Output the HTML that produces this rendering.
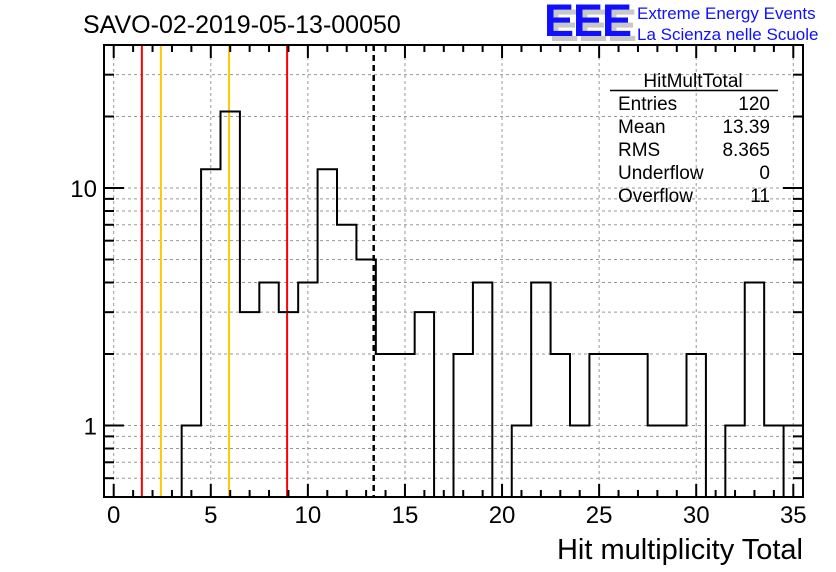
<!DOCTYPE html>
<html><head><meta charset="utf-8"><style>
html,body{margin:0;padding:0;background:#fff;}
svg{display:block;font-family:"Liberation Sans",Arial,sans-serif;}
</style></head><body>
<svg id="c" width="836" height="572" viewBox="0 0 836 572">
<rect width="836" height="572" fill="#fff"/>
<g id="grid"></g>
<g id="vlines"></g>
<path id="hist" fill="none" stroke="#000" stroke-width="2"/>
<g id="axes"></g>
<text x="83" y="33" font-size="25">SAVO-02-2019-05-13-00050</text>
<g>
<text x="549" y="41" font-size="45" font-weight="bold" fill="#c8c8c8" letter-spacing="-1">EEE</text>
<text x="544" y="36" font-size="45" font-weight="bold" fill="#1010ff" letter-spacing="-1">EEE</text>
<text x="637" y="19" font-size="17" fill="#1010ff">Extreme Energy Events</text>
<text x="637" y="40" font-size="17" fill="#1010ff">La Scienza nelle Scuole</text>
</g>
<g font-size="19">
<text x="693" y="87" text-anchor="middle">HitMultTotal</text>
<line x1="610" y1="90.5" x2="778" y2="90.5" stroke="#000" stroke-width="1.5"/>
<text x="618" y="110">Entries</text><text x="770" y="110" text-anchor="end">120</text>
<text x="618" y="133">Mean</text><text x="770" y="133" text-anchor="end">13.39</text>
<text x="618" y="156">RMS</text><text x="770" y="156" text-anchor="end">8.365</text>
<text x="618" y="179">Underflow</text><text x="770" y="179" text-anchor="end">0</text>
<text x="618" y="202">Overflow</text><text x="770" y="202" text-anchor="end">11</text>
</g>
<text x="803" y="559" font-size="29" text-anchor="end">Hit multiplicity Total</text>
</svg>
<script>
const binCenters=[0,1,2,3,4,5,6,7,8,9,10,11,12,13,14,15,16,17,18,19,20,21,22,23,24,25,26,27,28,29,30,31,32,33,34,35];
const counts=[0,0,0,0,1,12,21,3,4,3,4,12,7,5,2,2,3,0,2,4,0,1,4,2,1,2,2,2,1,1,2,0,1,4,1,1];
const xTicks=[0,5,10,15,20,25,30,35];
const yMajor=[1,10];
const yMinor=[0.5,0.6,0.7,0.8,0.9,2,3,4,5,6,7,8,9,20,30,40];
const cutLines=[1.45,2.43,5.94,8.93];
const cutColors=["#ff0000","#ffc800","#ffc800","#ff0000"];
const meanVal=13.39;

const L=104,R=803,T=45,B=497;
const xmin=-0.5,xmax=35.5,ymin=0.5,ymax=40;
function X(v){return L+(v-xmin)/(xmax-xmin)*(R-L);}
function Y(v){const lv=Math.log10(Math.max(v,ymin));return B-(lv-Math.log10(ymin))/(Math.log10(ymax)-Math.log10(ymin))*(B-T);}
const NS="http://www.w3.org/2000/svg";
function mk(tag,attrs,parent){const e=document.createElementNS(NS,tag);for(const k in attrs)e.setAttribute(k,attrs[k]);parent.appendChild(e);return e;}
const grid=document.getElementById('grid'),axes=document.getElementById('axes'),vl=document.getElementById('vlines');
xTicks.forEach(t=>{const l=mk('line',{x1:X(t),x2:X(t),y1:T,y2:B,stroke:'#999','stroke-dasharray':'3,3','stroke-width':1},grid);

});
yMajor.concat(yMinor).forEach(t=>{const l=mk('line',{x1:L,x2:R,y1:Y(t),y2:Y(t),stroke:'#999','stroke-dasharray':'3,3','stroke-width':1},grid);

});
cutLines.forEach((c,i)=>{const l=mk('line',{x1:X(c),x2:X(c),y1:T,y2:B,stroke:cutColors[i],'stroke-width':2},vl);

});
const ml=mk('line',{x1:X(meanVal),x2:X(meanVal),y1:T,y2:B,stroke:'#000','stroke-width':2.5,'stroke-dasharray':'6,4'},vl);


let d='',prev=null;
binCenters.forEach((c,i)=>{const x0=X(c-0.5),x1=X(c+0.5),y=counts[i]>0?Y(counts[i]):B;
if(prev===null)d+='M'+x0+','+y;else d+='L'+x0+','+y;d+='L'+x1+','+y;prev=y;});
document.getElementById('hist').setAttribute('d',d);
const last=binCenters.length-1;
if(counts[last]>0){const e=mk('line',{x1:X(binCenters[last]-0.5),x2:X(binCenters[last]-0.5),y1:Y(counts[last]),y2:B,stroke:'#000','stroke-width':2},axes);

}
const fr=mk('rect',{x:L,y:T,width:R-L,height:B-T,fill:'none',stroke:'#000','stroke-width':2},axes);


for(let v=0;v<=35;v++){const maj=v%5===0,len=maj?13:7;
mk('line',{x1:X(v),x2:X(v),y1:B,y2:B-len,stroke:'#000','stroke-width':2},axes);
mk('line',{x1:X(v),x2:X(v),y1:T,y2:T+len,stroke:'#000','stroke-width':2},axes);}
xTicks.forEach(t=>{const tx=mk('text',{x:X(t),y:523,'font-size':24,'text-anchor':'middle'},axes);tx.textContent=t;

});
yMajor.forEach(t=>{mk('line',{x1:L,x2:L+20,y1:Y(t),y2:Y(t),stroke:'#000','stroke-width':2},axes);
mk('line',{x1:R,x2:R-20,y1:Y(t),y2:Y(t),stroke:'#000','stroke-width':2},axes);
const tx=mk('text',{x:97,y:Y(t)+9,'font-size':24,'text-anchor':'end'},axes);tx.textContent=t;

});
yMinor.forEach(t=>{mk('line',{x1:L,x2:L+10,y1:Y(t),y2:Y(t),stroke:'#000','stroke-width':2},axes);
mk('line',{x1:R,x2:R-10,y1:Y(t),y2:Y(t),stroke:'#000','stroke-width':2},axes);});
</script>
</body></html>
